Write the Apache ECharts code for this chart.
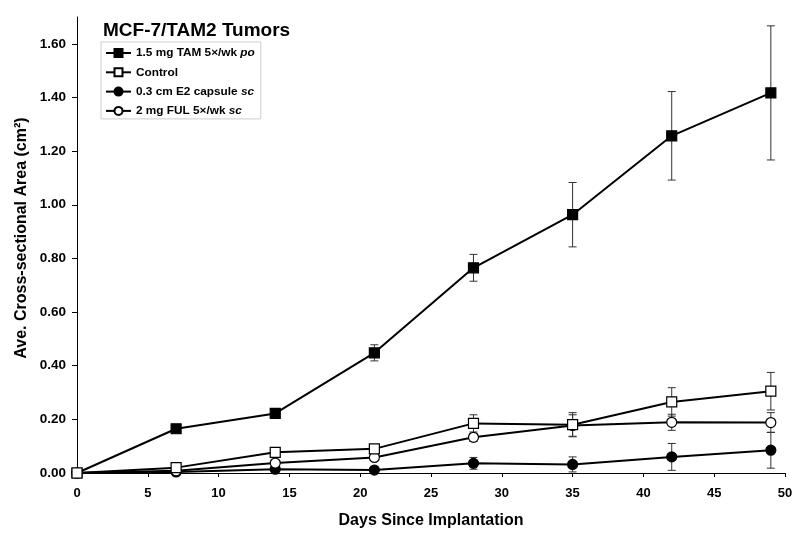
<!DOCTYPE html>
<html>
<head>
<meta charset="utf-8">
<script src="https://cdn.jsdelivr.net/npm/echarts@6/dist/echarts.min.js"></script>
<style>html,body{margin:0;padding:0;background:#fff;}#c{width:800px;height:544px;}</style>
</head>
<body>
<div id="c"></div>
<script>
const days = [0, 7, 14, 21, 28, 35, 42, 49];
const tam = [0, 0.165, 0.222, 0.448, 0.765, 0.963, 1.257, 1.417];
const tamErr = [0, 0.008, 0.01, 0.03, 0.05, 0.12, 0.165, 0.25];
const control = [0, 0.02, 0.077, 0.09, 0.185, 0.18, 0.265, 0.305];
const controlErr = [0, 0.004, 0.008, 0.01, 0.032, 0.045, 0.053, 0.07];
const e2 = [0, 0.004, 0.014, 0.011, 0.036, 0.032, 0.06, 0.085];
const e2Err = [0, 0.003, 0.005, 0.005, 0.022, 0.028, 0.05, 0.067];
const ful = [0, 0.008, 0.037, 0.058, 0.133, 0.177, 0.189, 0.188];
const fulErr = [0, 0.003, 0.005, 0.01, 0.015, 0.04, 0.03, 0.037];
const xTicks = [0, 5, 10, 15, 20, 25, 30, 35, 40, 45, 50];
const yTicks = [0, 0.2, 0.4, 0.6, 0.8, 1.0, 1.2, 1.4, 1.6];
const names = ['1.5 mg TAM 5×/wk po', 'Control', '0.3 cm E2 capsule sc', '2 mg FUL 5×/wk sc'];

const FONT = 'Liberation Sans, Arial, Helvetica, sans-serif';
const chart = echarts.init(document.getElementById('c'), null, {renderer: 'canvas'});

function pts(vals) { return days.map((d, i) => [d, vals[i]]); }
function errData(vals, errs) { return days.map((d, i) => [d, vals[i] - errs[i], vals[i] + errs[i]]); }

function errSeries(vals, errs) {
  return {
    type: 'custom',
    data: errData(vals, errs),
    z: 1,
    silent: true,
    renderItem: function (params, api) {
      const x = api.value(0);
      const lo = api.coord([x, api.value(1)]);
      const hi = api.coord([x, api.value(2)]);
      const w = 4;
      const st = {stroke: '#333', lineWidth: 1};
      return {
        type: 'group',
        children: [
          {type: 'line', shape: {x1: lo[0], y1: lo[1], x2: hi[0], y2: hi[1]}, style: st},
          {type: 'line', shape: {x1: lo[0] - w, y1: lo[1], x2: lo[0] + w, y2: lo[1]}, style: st},
          {type: 'line', shape: {x1: hi[0] - w, y1: hi[1], x2: hi[0] + w, y2: hi[1]}, style: st}
        ]
      };
    }
  };
}

function lineSeries(name, vals, symbol, fill, size) {
  return {
    name: name,
    type: 'line',
    data: pts(vals),
    symbol: symbol,
    symbolSize: size,
    z: 3,
    lineStyle: {color: '#000', width: 2},
    itemStyle: {color: fill, borderColor: '#000', borderWidth: 1.2},
    emphasis: {disabled: true},
    animation: false
  };
}

const option = {
  animation: false,
  backgroundColor: '#fff',
  title: {
    text: 'MCF-7/TAM2 Tumors',
    left: 98, top: 16,
    textStyle: {fontFamily: FONT, fontWeight: 'bold', fontSize: 19, color: '#000'}
  },
  legend: {
    orient: 'vertical',
    left: 101, top: 42,
    data: names,
    itemWidth: 25, itemHeight: 10, itemGap: 7.3,
    padding: [5, 6, 2, 4],
    borderColor: '#ccc', borderWidth: 1,
    formatter: function (n) {
      if (n.endsWith(' po')) return n.slice(0, -3) + ' {i|po}';
      if (n.endsWith(' sc')) return n.slice(0, -3) + ' {i|sc}';
      return n;
    },
    textStyle: {
      fontFamily: FONT, fontWeight: 'bold', fontSize: 11.8, color: '#000',
      rich: {i: {fontFamily: FONT, fontWeight: 'bold', fontStyle: 'italic', fontSize: 11.8, color: '#000'}}
    }
  },
  grid: {left: 77, right: 15, top: 17, bottom: 71, containLabel: false},
  xAxis: {
    type: 'value', min: 0, max: 50, interval: 5,
    name: 'Days Since Implantation', nameLocation: 'middle', nameGap: 40,
    nameTextStyle: {fontFamily: FONT, fontWeight: 'bold', fontSize: 16, color: '#000'},
    axisLine: {show: true, lineStyle: {color: '#000', width: 1}},
    axisTick: {show: true, length: 4, lineStyle: {color: '#000'}},
    axisLabel: {fontFamily: FONT, fontWeight: 'bold', fontSize: 13, color: '#000', margin: 14},
    splitLine: {show: false}
  },
  yAxis: {
    type: 'value', min: 0, max: 1.7,
    axisLine: {show: true, lineStyle: {color: '#000', width: 1}},
    axisTick: {show: true, length: 5, lineStyle: {color: '#000'}, customValues: yTicks},
    axisLabel: {
      fontFamily: FONT, fontWeight: 'bold', fontSize: 13.5, color: '#000', margin: 11,
      customValues: yTicks,
      formatter: v => v.toFixed(2)
    },
    splitLine: {show: false}
  },
  graphic: [{
    type: 'text',
    x: 22, y: 238,
    rotation: Math.PI / 2,
    style: {
      text: 'Ave. Cross-sectional Area (cm²)',
      fontFamily: FONT, fontWeight: 'bold', fontSize: 16, fill: '#000',
      align: 'center', verticalAlign: 'middle'
    }
  }],
  series: [
    errSeries(tam, tamErr),
    errSeries(control, controlErr),
    errSeries(e2, e2Err),
    errSeries(ful, fulErr),
    lineSeries(names[2], e2, 'circle', '#000', 10),
    lineSeries(names[3], ful, 'circle', '#fff', 10),
    lineSeries(names[0], tam, 'rect', '#000', 10),
    lineSeries(names[1], control, 'rect', '#fff', 10)
  ]
};
chart.setOption(option);
</script>
</body>
</html>
